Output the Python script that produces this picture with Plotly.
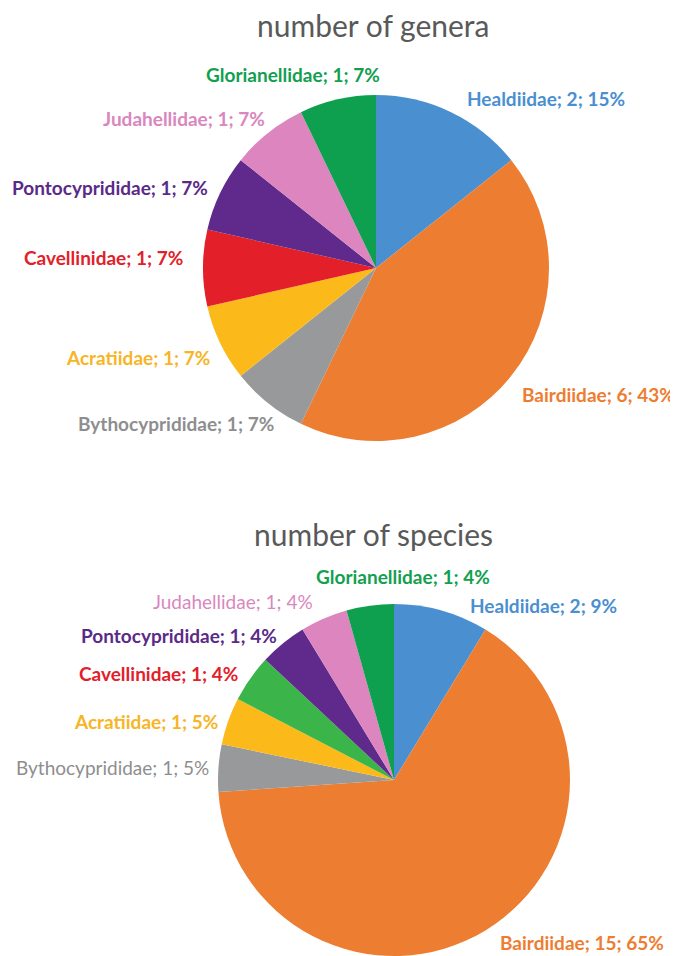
import plotly.graph_objects as go

W, H = 678, 956
OFF = 8  # page body margin of the written html

families = ["Healdiidae", "Bairdiidae", "Bythocyprididae", "Acratiidae",
            "Cavellinidae", "Pontocyprididae", "Judahellidae", "Glorianellidae"]
genera_counts = [2, 6, 1, 1, 1, 1, 1, 1]
genera_pct = ["15%", "43%", "7%", "7%", "7%", "7%", "7%", "7%"]
species_counts = [2, 15, 1, 1, 1, 1, 1, 1]
species_pct = ["9%", "65%", "5%", "5%", "4%", "4%", "4%", "4%"]

slice_colors_genera = ["#4A90D0", "#ED7D31", "#98999B", "#FBBA1A",
                       "#E3202A", "#5F2A8B", "#DD85BF", "#0EA04E"]
slice_colors_species = ["#4A90D0", "#ED7D31", "#98999B", "#FBBA1A",
                        "#3BB54A", "#5F2A8B", "#DD85BF", "#0EA04E"]
label_colors = ["#4A8FCF", "#ED7D31", "#8E8E90", "#F7B526",
                "#E2202A", "#5A2A88", "#D987BE", "#12A04F"]

# label anchor positions in page pixels (center x, center y)
genera_label_pos = [(546, 99), (598, 394), (176, 423), (138, 357),
                    (103, 257), (110, 187), (184, 119), (293, 74)]
species_label_pos = [(543, 605), (582, 942), (112, 767), (146, 721),
                     (158, 673), (179, 635), (233, 601), (403, 576)]
genera_bold = [True] * 8
species_bold = [True, True, False, True, True, True, False, True]

def px(x, y):
    return (x - OFF) / W, 1 - (y - OFF) / H

def dom(cx, cy, r):
    x0, y1 = px(cx - r, cy - r)
    x1, y0 = px(cx + r, cy + r)
    return dict(x=[x0, x1], y=[max(0.0, y0), min(1.0, y1)])

fig = go.Figure()

fig.add_trace(go.Pie(
    labels=families, values=genera_counts, sort=False, direction="clockwise",
    rotation=0, marker=dict(colors=slice_colors_genera, line=dict(width=0)),
    textinfo="none", hoverinfo="label+value", showlegend=False,
    domain=dom(376, 268, 173),
))

fig.add_trace(go.Pie(
    labels=families, values=species_counts, sort=False, direction="clockwise",
    rotation=0, marker=dict(colors=slice_colors_species, line=dict(width=0)),
    textinfo="none", hoverinfo="label+value", showlegend=False,
    domain=dom(394, 780, 176),
))

annotations = []
for counts, pcts, poses, bolds in [(genera_counts, genera_pct, genera_label_pos, genera_bold),
                                   (species_counts, species_pct, species_label_pos, species_bold)]:
    for fam, n, p, (x, y), col, b in zip(families, counts, pcts, poses, label_colors, bolds):
        ax, ay = px(x, y)
        annotations.append(dict(
            x=ax, y=ay, xref="paper", yref="paper", showarrow=False,
            text=f"{fam}; {n}; {p}", xanchor="center", yanchor="middle",
            font=dict(family="Lato", size=19, color=col,
                      weight="bold" if b else "normal")))

for txt, (x, y) in [("number of genera", (373, 25)), ("number of species", (373, 534))]:
    ax, ay = px(x, y)
    annotations.append(dict(
        x=ax, y=ay, xref="paper", yref="paper", showarrow=False, text=txt,
        xanchor="center", yanchor="middle",
        font=dict(family="Lato", size=30, color="#595959")))

fig.update_layout(
    width=W, height=H, margin=dict(l=0, r=0, t=0, b=0),
    paper_bgcolor="white", plot_bgcolor="white",
    annotations=annotations,
)

fig.write_html("out.html")
